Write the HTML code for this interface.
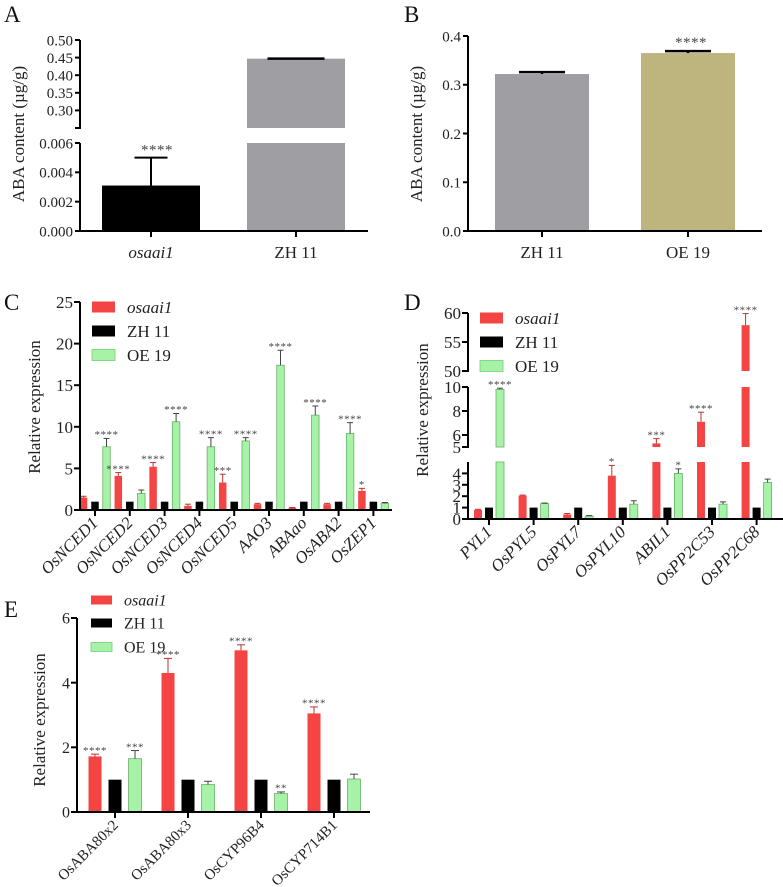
<!DOCTYPE html>
<html><head><meta charset="utf-8"><style>
body{margin:0;background:#fff;}
svg{display:block;}
svg text{font-family:"Liberation Serif","DejaVu Serif","Times New Roman",serif;}
</style></head><body>
<svg id="fig" width="783" height="887" viewBox="0 0 783 887" xmlns="http://www.w3.org/2000/svg" font-family="Liberation Serif, DejaVu Serif, serif"></svg>
<script>
// ---- data ----
const aCats=["osaai1","ZH 11"];
const aVals=[0.0031,0.447];
const aErr=[0.0019,0.002];
const bCats=["ZH 11","OE 19"];
const bVals=[0.322,0.365];
const bErr=[0.004,0.004];
const seriesNames=["osaai1","ZH 11","OE 19"];
const cCats=["OsNCED1","OsNCED2","OsNCED3","OsNCED4","OsNCED5","AAO3","ABAao","OsABA2","OsZEP1"];
const cRed=[1.5,4.1,5.2,0.5,3.3,0.7,0.25,0.7,2.3];
const cRedErr=[0.15,0.4,0.5,0.2,1.0,0.1,0.05,0.1,0.3];
const cBlack=[1,1,1,1,1,1,1,1,1];
const cGreen=[7.6,2.0,10.6,7.6,8.3,17.4,11.4,9.2,0.8];
const cGreenErr=[1.0,0.4,1.0,1.1,0.4,1.8,1.1,1.3,0.1];
const cRedStars=["","****","****","","***","","","","*"];
const cGreenStars=["****","","****","****","****","****","****","****",""];
const dCats=["PYL1","OsPYL5","OsPYL7","OsPYL10","ABIL1","OsPP2C53","OsPP2C68"];
const dRed=[0.8,2.05,0.4,3.8,5.3,7.1,57.9];
const dRedErr=[0.05,0.05,0.08,0.9,0.4,0.8,2.0];
const dBlack=[1,1,1,1,1,1,1];
const dGreen=[9.8,1.35,0.25,1.3,4.0,1.3,3.2];
const dGreenErr=[0.1,0.05,0.05,0.3,0.4,0.2,0.3];
const dRedStars=["","","","*","***","****","****"];
const dGreenStars=["****","","","","*","",""];
const eCats=["OsABA80x2","OsABA80x3","OsCYP96B4","OsCYP714B1"];
const eRed=[1.72,4.3,5.0,3.05];
const eRedErr=[0.07,0.45,0.17,0.2];
const eBlack=[1,1,1,1];
const eGreen=[1.65,0.85,0.57,1.02];
const eGreenErr=[0.25,0.1,0.05,0.15];
const eRedStars=["****","****","****","****"];
const eGreenStars=["***","","**",""];

const NS="http://www.w3.org/2000/svg";
const FONT="Liberation Serif, DejaVu Serif, Times New Roman, serif";
const svg=document.getElementById('fig');
function mk(tag,attrs,parent,txt){const e=document.createElementNS(NS,tag);for(const k in attrs)e.setAttribute(k,attrs[k]);if(tag==='text')e.setAttribute('font-family',FONT);if(txt!==undefined)e.textContent=txt;(parent||svg).appendChild(e);return e;}
function grp(name){const g=mk('g',{});return g;}

function yScale(segs){return v=>{for(let i=segs.length-1;i>=0;i--){const s=segs[i];if(v>=s.lo&&v<=s.hi+1e-9)return s.y0+(v-s.lo)/(s.hi-s.lo)*(s.y1-s.y0);}
 const s=segs[segs.length-1];return v>s.hi?s.y1:segs[0].y0;};}
function drawBar(g,segs,x,w,v,fill,stroke){
 for(const s of segs){if(v<=s.lo)continue;const top=s.y0+(Math.min(v,s.hi)-s.lo)/(s.hi-s.lo)*(s.y1-s.y0);
  const r=mk('rect',{x:x,y:top,width:w,height:s.y0-top,fill:fill,stroke:stroke||'none','stroke-width':0.8},g);
  }
}
function drawErr(g,y,cx,v,e,capW,sw,col){
 const y1=y(v),y2=y(v+e);
 mk('line',{x1:cx,x2:cx,y1:y1,y2:y2,stroke:col||'#333','stroke-width':sw||1},g);
 mk('line',{x1:cx-capW/2,x2:cx+capW/2,y1:y2,y2:y2,stroke:col||'#333','stroke-width':sw||1},g);
 return y2;
}
function axis(g,segs,ax,ticks,fs,tickLen){
 for(const s of segs){mk('line',{x1:ax,x2:ax,y1:s.y0+1,y2:s.y1,stroke:'#000','stroke-width':2},g);}
 const y=yScale(segs);
 ticks.forEach(t=>{const yy=y(t.v);mk('line',{x1:ax-(tickLen||5),x2:ax,y1:yy,y2:yy,stroke:'#000','stroke-width':2},g);
  if(t.l!==null){const tx=mk('text',{x:ax-7,y:yy+fs*0.35,'font-size':fs,'text-anchor':'end',fill:'#222'},g,t.l);
   }});
}
function xaxis(g,x0,x1,y0,ticksX){mk('line',{x1:x0-1,x2:x1,y1:y0,y2:y0,stroke:'#000','stroke-width':2},g);
 ticksX.forEach(x=>mk('line',{x1:x,x2:x,y1:y0,y2:y0+6,stroke:'#000','stroke-width':2},g));}
function ytitle(g,x,y,txt,fs){const t=mk('text',{x:x,y:y,'font-size':fs,'text-anchor':'middle',transform:`rotate(-90 ${x} ${y})`,fill:'#222'},g,txt);
 }
function plabel(x,y,t){const e=mk('text',{x:x,y:y,'font-size':23,fill:'#111'},svg,t);}
function stars(g,x,y,s,fs){if(!s)return;const t=mk('text',{x:x,y:y+fs*0.25,'font-size':fs,'text-anchor':'middle',fill:'#444','letter-spacing':'0.5'},g,s);
 }
function legend(g,x,ys,fs,sw,sh){const cols=['#f54444','#000','#a6f2a6'];
 seriesNames.forEach((n,i)=>{const lg=mk('g',{},g);
  mk('rect',{x:x,y:ys[i]-sh/2,width:sw,height:sh,fill:cols[i],stroke:i==2?'#7c7':'none','stroke-width':0.8},lg);
  mk('text',{x:x+sw+12,y:ys[i]+fs*0.35,'font-size':fs,'font-style':i==0?'italic':'normal',fill:'#222'},lg,n);});}

// ---- Panel A ----
plabel(4,22,'A');
(function(){const g=grp('panel-a-chart');
 const segs=[{lo:0,hi:0.006,y0:231,y1:143},{lo:0.25,hi:0.5,y0:128,y1:40}];const y=yScale(segs);
 const cx=[151,296];const bw=98;const fills=['#000','#9f9fa3'];
 aVals.forEach((v,i)=>{drawBar(g,segs,cx[i]-bw/2,bw,v,fills[i]);});
 drawErr(g,y,cx[0],aVals[0],aErr[0],33,2,'#000');
 drawErr(g,y,cx[1],aVals[1],aErr[1]*0,57,2.5,'#000');
 stars(g,cx[0]+6,y(aVals[0]+aErr[0])-7,'****',15);
 axis(g,segs,80,[{v:0,l:'0.000'},{v:0.002,l:'0.002'},{v:0.004,l:'0.004'},{v:0.006,l:'0.006'},{v:0.25,l:null},{v:0.3,l:'0.30'},{v:0.35,l:'0.35'},{v:0.4,l:'0.40'},{v:0.45,l:'0.45'},{v:0.5,l:'0.50'}],15,5);
 xaxis(g,80,368,231,cx);
 aCats.forEach((c,i)=>{const t=mk('text',{x:cx[i],y:258,'font-size':17,'text-anchor':'middle','font-style':i==0?'italic':'normal',fill:'#222'},g,c);});
 ytitle(g,24,134,'ABA content (µg/g)',17);
})();

// ---- Panel B ----
plabel(404,22,'B');
(function(){const g=grp('panel-b-chart');
 const segs=[{lo:0,hi:0.4,y0:231,y1:36}];const y=yScale(segs);
 const cx=[542,688];const bw=94;const fills=['#9f9fa3','#beb47d'];
 bVals.forEach((v,i)=>{drawBar(g,segs,cx[i]-bw/2,bw,v,fills[i]);drawErr(g,y,cx[i],bVals[i],bErr[i],46,2.5,'#000');});
 stars(g,cx[1]+3,y(bVals[1]+bErr[1])-8,'****',15);
 axis(g,segs,468,[0,0.1,0.2,0.3,0.4].map(v=>({v:v,l:v.toFixed(1)})),15,5);
 xaxis(g,468,762,231,cx);
 bCats.forEach((c,i)=>{const t=mk('text',{x:cx[i],y:258,'font-size':17,'text-anchor':'middle',fill:'#222'},g,c);});
 ytitle(g,422,134,'ABA content (µg/g)',17);
})();

function grouped(name,cats,red,redE,black,green,greenE,rs,gs,segs,ax,ax1,axY,x0,gw,off,bw,ticks,fs,italicX,starFs,capW,xfs){
 const g=grp(name);const y=yScale(segs);const tx=[];
 cats.forEach((c,i)=>{const cx=x0+i*gw;tx.push(cx);
  drawBar(g,segs,cx-off-bw/2,bw,red[i],'#f54444');
  drawBar(g,segs,cx-bw/2,bw,black[i],'#000');
  drawBar(g,segs,cx+off-bw/2,bw,green[i],'#a6f2a6','#6ab06a');
  const yr=drawErr(g,y,cx-off,red[i],redE[i],capW,1,'#b33');
  const yg=drawErr(g,y,cx+off,green[i],greenE[i],capW,1,'#444');
  stars(g,cx-off,yr-3,rs[i],starFs);stars(g,cx+off,yg-3,gs[i],starFs);
 });
 axis(g,segs,ax,ticks,fs,6);
 xaxis(g,ax,ax1,axY,tx);
 cats.forEach((c,i)=>{const x=tx[i]+4,yy=axY+14;const t=mk('text',{x:x,y:yy,'font-size':xfs||17,'text-anchor':'end','font-style':italicX?'italic':'normal',transform:`rotate(-45 ${x} ${yy})`,fill:'#222'},g,c);});
 return g;
}

// ---- Panel C ----
plabel(4,310,'C');
(function(){const segs=[{lo:0,hi:25,y0:510,y1:302}];
 const g=grouped('panel-c-chart',cCats,cRed,cRedErr,cBlack,cGreen,cGreenErr,cRedStars,cGreenStars,segs,80,392,510,95,34.8,11.5,7.5,[0,5,10,15,20,25].map(v=>({v:v,l:String(v)})),17,true,11,6,17);
 legend(g,92,[307,331,355],17,23,11);
 ytitle(g,40,407,'Relative expression',17);
})();

// ---- Panel D ----
plabel(404,310,'D');
(function(){const segs=[{lo:0,hi:5,y0:519,y1:462},{lo:5,hi:10,y0:447,y1:387},{lo:50,hi:60,y0:371,y1:313}];
 const g=grouped('panel-d-chart',dCats,dRed,dRedErr,dBlack,dGreen,dGreenErr,dRedStars,dGreenStars,segs,468,783,519,489,44.6,11,8,[0,1,2,3,4,5].map(v=>({v:v,l:String(v)})).concat([{v:5.0001,l:null},{v:6,l:'6'},{v:8,l:'8'},{v:10,l:'10'},{v:50,l:'50'},{v:55,l:'55'},{v:60,l:'60'}]),17,true,11,6,17);
 legend(g,480,[318,342,366],17,23,11);
 ytitle(g,428,410,'Relative expression',17);
})();

// ---- Panel E ----
plabel(4,617,'E');
(function(){const segs=[{lo:0,hi:6,y0:812,y1:618}];
 const g=grouped('panel-e-chart',eCats,eRed,eRedErr,eBlack,eGreen,eGreenErr,eRedStars,eGreenStars,segs,77,370,812,115,73,20,13,[0,2,4,6].map(v=>({v:v,l:String(v)})),16,false,11,8,15);
 legend(g,91,[600,623,647],16,21,9);
 ytitle(g,45,720,'Relative expression',17);
})();
</script>
</body></html>
